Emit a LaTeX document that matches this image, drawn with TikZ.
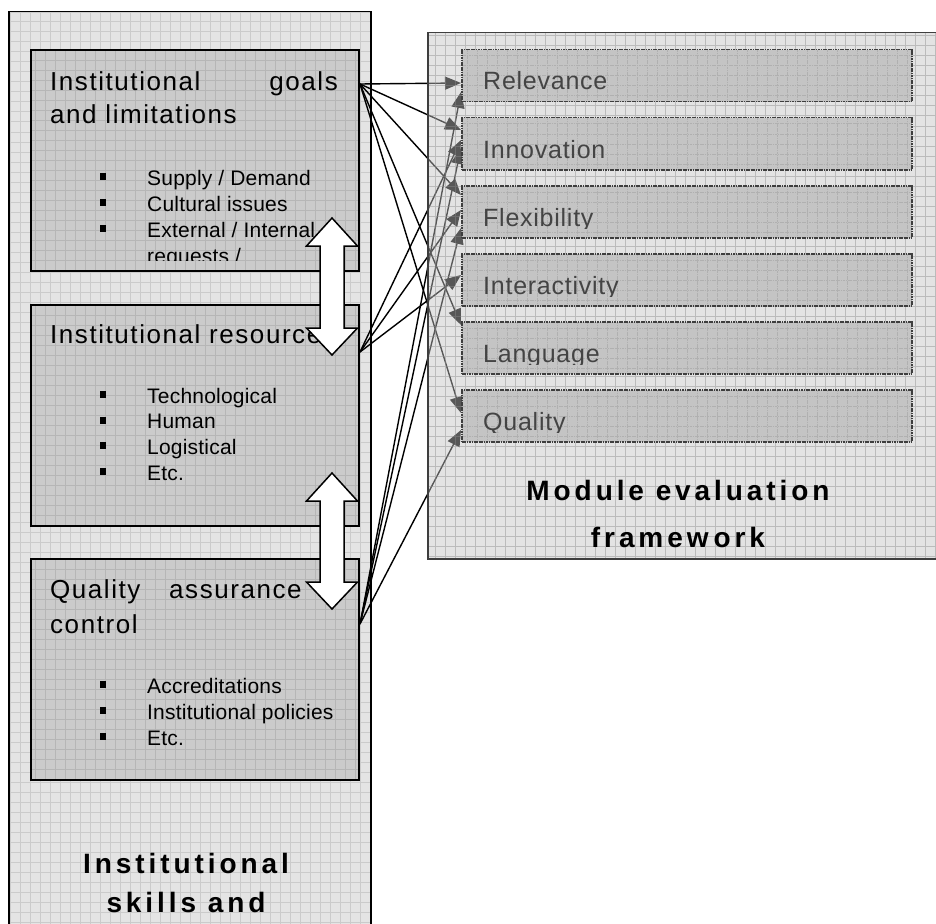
\documentclass[tikz,border=0pt]{standalone}
\usepackage{fontspec}
\setmainfont{Liberation Sans}
\newfontfamily\ttlfont[LetterSpace=6]{Liberation Sans}
\newfontfamily\itemfont[LetterSpace=1]{Liberation Sans}
\newfontfamily\rfont[LetterSpace=3]{Liberation Sans}
\newfontfamily\bldfont[LetterSpace=14]{Liberation Sans Bold}
\usetikzlibrary{arrows.meta}
\definecolor{panel}{HTML}{E4E4E4}
\definecolor{panelgrid}{HTML}{CBCBCB}
\definecolor{rpanel}{HTML}{C3C3C3}
\definecolor{rpanelgrid}{HTML}{8B8B8B}
\definecolor{inner}{HTML}{CBCBCB}
\definecolor{innergrid}{HTML}{B6B6B6}
\definecolor{rinner}{HTML}{C4C4C4}
\definecolor{rinnergrid}{HTML}{B0B0B0}
\definecolor{rtext}{HTML}{444444}
\definecolor{rborder}{HTML}{3E3E3E}
\pgfdeclarelayer{lower}
\pgfdeclarelayer{mid}
\pgfsetlayers{lower,mid,main}
\newcommand\bulsq{\makebox[47pt][l]{\rule[5pt]{6pt}{7pt}}}
\tikzset{
  gridded/.style={path picture={\draw[#1,line width=0.5pt,step=10pt]
     (path picture bounding box.south west) grid (path picture bounding box.north east);}},
  lpanel/.style={draw=black,line width=1.5pt,fill=panel,gridded=panelgrid,inner sep=0pt,anchor=north west},
  rpanelbox/.style={draw=rborder,line width=1.5pt,fill=rpanel,fill opacity=0.45,draw opacity=1,
     path picture={\draw[rpanelgrid,line width=0.5pt,step=10pt,draw opacity=0.45]
     (path picture bounding box.south west) grid (path picture bounding box.north east);},
     inner sep=0pt,anchor=north west},
  inbox/.style={draw=black,line width=2pt,fill=inner,gridded=innergrid,inner sep=0pt,anchor=north west,
     minimum width=328,minimum height=221},
  rbox/.style={draw=rborder,line width=1.5pt,dash pattern=on 1.2pt off 0.5pt,fill=rinner,gridded=rinnergrid,
     inner sep=0pt,anchor=north west,minimum width=450,minimum height=52},
  ttl/.style={font=\ttlfont\fontsize{26}{30}\selectfont,inner sep=0pt},
  itm/.style={font=\itemfont\fontsize{21}{25}\selectfont,inner sep=0pt,anchor=base west},
  rlab/.style={font=\rfont\fontsize{25}{30}\selectfont,text=rtext,inner sep=0pt,anchor=base west},
  bigl/.style={font=\bldfont\fontsize{28}{32}\selectfont,inner sep=0pt,anchor=base},
  blockarrow/.style={draw=black,line width=1.5pt,fill=white,line join=miter},
  conn/.style={draw=black,line width=1.4pt,-{Triangle[length=16pt,width=13pt]}}
}
\begin{document}
\begin{tikzpicture}[x=1pt,y=-1pt]
\useasboundingbox (0,0) rectangle (936,923);
\begin{pgfonlayer}{lower}
\fill[white] (0,0) rectangle (936,923);
% left panel
\node[lpanel,minimum width=362,minimum height=940] (lp) at (8,11) {};
\node[inbox] (b1) at (30,49) {};
\node[inbox] (b2) at (30,304) {};
\node[inbox] (b3) at (30,558) {};
% box 1 texts
\node[ttl,anchor=base west] (t1a) at (50,90.7) {Institutional};
\node[ttl,anchor=base east] (t1b) at (338,90.7) {goals};
\node[ttl,anchor=base west] (t1c) at (50,124) {and limitations};
\begin{scope}
\clip (30,49) rectangle (358,260);
\node[itm] (i11) at (100,185) {\bulsq Supply / Demand};
\node[itm] (i12) at (100,211) {\bulsq Cultural issues};
\node[itm] (i13) at (100,237) {\bulsq External / Internal};
\node[itm] (i14) at (100,263) {\makebox[47pt][l]{}requests /};
\end{scope}
% box 2 texts
\node[ttl,anchor=base west] (t2a) at (50,343) {Institutional resources};
\node[itm] (i21) at (100,403) {\bulsq Technological};
\node[itm] (i22) at (100,428.7) {\bulsq Human};
\node[itm] (i23) at (100,454.4) {\bulsq Logistical};
\node[itm] (i24) at (100,480) {\bulsq Etc.};
% box 3 texts
\node[ttl,anchor=base west] (t3a) at (50,598) {Quality};
\node[ttl,anchor=base west] (t3b) at (169,598) {assurance};
\node[ttl,anchor=base west] (t3c) at (50,633) {control};
\node[itm] (i31) at (100,693) {\bulsq Accreditations};
\node[itm] (i32) at (100,719) {\bulsq Institutional policies};
\node[itm] (i33) at (100,745) {\bulsq Etc.};
% bottom label
\node[bigl] (lab1) at (186,873) {Institutional};
\node[bigl] (lab2) at (186,912) {skills and};
% double block arrows
\foreach \t/\b in {218/355, 473/609}{
  \draw[blockarrow] (332,\t) -- (357.5,{\t+28}) -- (344,{\t+28}) -- (344,{\b-27}) -- (357.5,{\b-27})
     -- (332,\b) -- (306.5,{\b-27}) -- (320,{\b-27}) -- (320,{\t+28}) -- (306.5,{\t+28}) -- cycle;
}
\end{pgfonlayer}
% right panel (semi transparent, over the connectors)
\node[rpanelbox,minimum width=515,minimum height=526] (rp) at (427,32) {};
\foreach \i/\txt/\y in {1/Relevance/49, 2/Innovation/117, 3/Flexibility/185, 4/Interactivity/253, 5/Language/321, 6/Quality/389}{
  \node[rbox] (r\i) at (461,\y) {};
  \begin{scope}
    \clip (461,\y) rectangle (911,{\y+43});
    \node[rlab] (rl\i) at (483,{\y+41}) {\txt};
  \end{scope}
}
\node[bigl] (lab3) at (678,500) {Module evaluation};
\node[bigl] (lab4) at (678,547) {framew\kern5pt ork};
% connectors
\begin{pgfonlayer}{mid}
\coordinate (s1) at ([yshift=-35pt]b1.north east);
\coordinate (s2) at ([yshift=-48pt]b2.north east);
\coordinate (s3) at ([yshift=-66pt]b3.north east);
\draw[conn] (s1) -- ([yshift=-34pt]r1.north west);
\draw[conn] (s1) -- ([yshift=-13pt]r2.north west);
\draw[conn] (s1) -- ([yshift=-10pt]r3.north west);
\draw[conn] (s1) -- ([yshift=-4pt]r5.north west);
\draw[conn] (s1) -- ([yshift=-24pt]r6.north west);
\draw[conn] (s2) -- ([yshift=-23pt]r2.north west);
\draw[conn] (s2) -- ([yshift=-25pt]r3.north west);
\draw[conn] (s2) -- ([yshift=-22pt]r4.north west);
\draw[conn] (s3) -- ([yshift=-43pt]r1.north west);
\draw[conn] (s3) -- ([yshift=-31pt]r2.north west);
\draw[conn] (s3) -- ([yshift=-43pt]r3.north west);
\draw[conn] (s3) -- ([yshift=-41pt]r6.north west);
\end{pgfonlayer}
\end{tikzpicture}
\end{document}
